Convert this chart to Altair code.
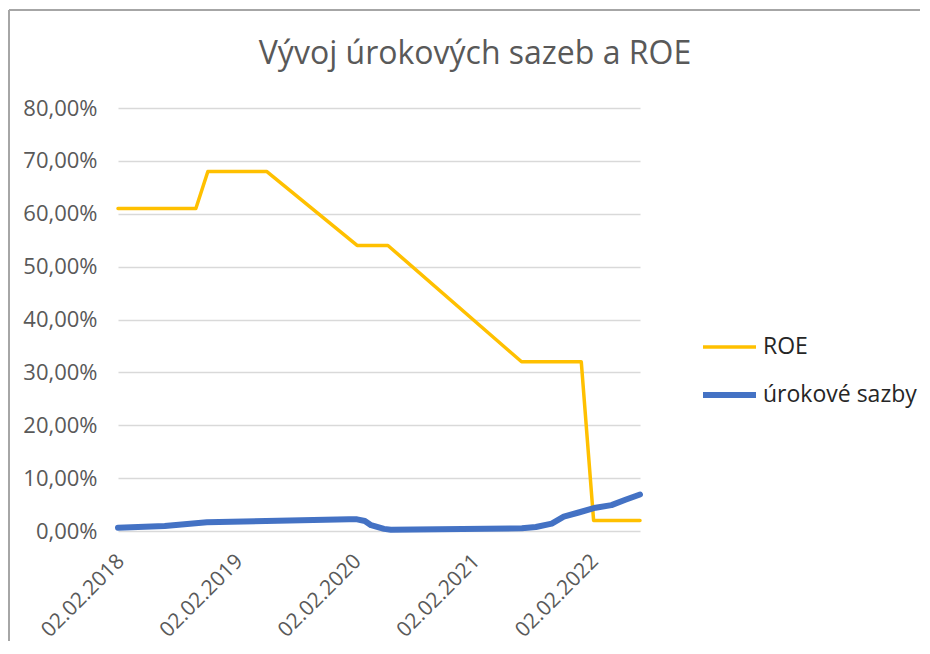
import altair as alt
import pandas as pd

# ---- data ----
roe_dates = ["2018-02-02", "2018-09-30", "2018-11-06", "2019-05-06", "2020-02-09",
             "2020-05-14", "2021-06-30", "2021-12-31", "2022-02-07", "2022-06-30"]
roe_values = [0.61, 0.61, 0.68, 0.68, 0.54, 0.54, 0.32, 0.32, 0.02, 0.02]

rate_dates = ["2018-02-02", "2018-06-26", "2018-11-03", "2020-01-15", "2020-02-09",
              "2020-03-04", "2020-03-23", "2020-05-02", "2020-05-23", "2021-07-01",
              "2021-08-13", "2021-10-01", "2021-11-07", "2021-12-23", "2022-02-13",
              "2022-04-03", "2022-05-16", "2022-06-30"]
rate_values = [0.0062, 0.0095, 0.0165, 0.022, 0.022, 0.019, 0.011, 0.004, 0.0025, 0.005,
               0.0075, 0.014, 0.027, 0.035, 0.044, 0.049, 0.059, 0.069]

series_names = ["ROE", "úrokové sazby"]
series_colors = ["#FFC000", "#4472C4"]
series_widths = [3.5, 6]

x_tick_years = [2018, 2019, 2020, 2021, 2022]
y_ticks = [0, 0.1, 0.2, 0.3, 0.4, 0.5, 0.6, 0.7, 0.8]
title_text = "Vývoj úrokových sazeb a ROE"

df = pd.concat([
    pd.DataFrame({"datum": roe_dates, "hodnota": roe_values, "rada": series_names[0]}),
    pd.DataFrame({"datum": rate_dates, "hodnota": rate_values, "rada": series_names[1]}),
], ignore_index=True)

FONT = "Open Sans"
legend_def = alt.Legend(
    title=None, orient="none", legendX=582, legendY=227,
    symbolType="stroke", symbolSize=2809, clipHeight=24, rowPadding=24,
    labelFont=FONT, labelFontSize=23, labelColor="#262626", labelOffset=4,
)

lines = alt.Chart(df).mark_line(strokeJoin="round", strokeCap="round").encode(
    x=alt.X("datum:T", title=None,
            scale=alt.Scale(type="utc",
                            domain=[alt.DateTime(year=2018, month=2, date=2, utc=True),
                                    alt.DateTime(year=2022, month=6, date=30, utc=True)]),
            axis=alt.Axis(values=[alt.DateTime(year=y, month=2, date=2, utc=True) for y in x_tick_years],
                          labelExpr="utcFormat(datum.value, '%d.%m.%Y')",
                          labelAngle=315, labelAlign="right", labelBaseline="top",
                          labelPadding=19, labelOffset=-5, grid=False, domain=False,
                          ticks=False, tickSize=0, labelFont=FONT, labelFontSize=21,
                          labelColor="#595959")),
    y=alt.Y("hodnota:Q", title=None,
            scale=alt.Scale(domain=[0, 0.8], nice=False),
            axis=alt.Axis(values=y_ticks,
                          labelExpr="replace(format(datum.value, '.2%'), '.', ',')",
                          labelPadding=21, domain=False, ticks=False, tickSize=0,
                          gridColor="#D9D9D9", gridWidth=1.5,
                          labelFont=FONT, labelFontSize=22, labelColor="#595959")),
    color=alt.Color("rada:N", scale=alt.Scale(domain=series_names, range=series_colors),
                    legend=legend_def),
    strokeWidth=alt.StrokeWidth("rada:N", scale=alt.Scale(domain=series_names, range=series_widths),
                                legend=legend_def),
    order=alt.Order("datum:T"),
)

frame_df = pd.DataFrame({"k": [0]})
frame_left = alt.Chart(frame_df).mark_rule(color="#A6A6A6", strokeWidth=2).encode(
    x=alt.value(-109), y=alt.value(-98), y2=alt.value(540))
frame_top = alt.Chart(frame_df).mark_rule(color="#A6A6A6", strokeWidth=2).encode(
    x=alt.value(-109), x2=alt.value(802), y=alt.value(-98))

chart = alt.layer(frame_left, frame_top, lines).properties(
    width=522, height=423,
    autosize="none",
    padding={"left": 110, "top": 100, "right": 280, "bottom": 110},
    title=alt.TitleParams(text=title_text, font=FONT, fontSize=32, fontWeight="normal",
                          color="#595959", anchor="middle", frame="group", offset=0,
                          baseline="alphabetic", dx=96, dy=87),
).configure_view(strokeWidth=0)

chart.save("out.html", embed_options={"renderer": "svg", "actions": False})
